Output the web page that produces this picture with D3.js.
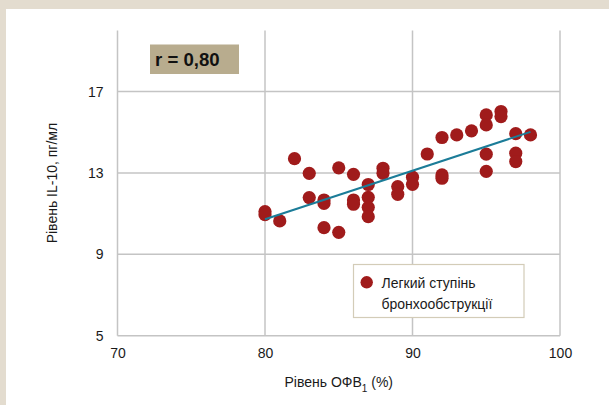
<!DOCTYPE html>
<html><head><meta charset="utf-8">
<script src="https://cdn.jsdelivr.net/npm/d3@7"></script>
<style>
html,body{margin:0;padding:0;background:#fff;}
svg{display:block;font-family:"Liberation Sans",Arial,sans-serif;}
</style></head>
<body>
<svg id="chart" width="609" height="405"></svg>
<script>
const fev1 = [80,80,81,82,83,83,84,84,84,85,85,86,86,86,87,87,87,87,88,88,89,89,90,90,91,92,92,92,93,94,95,95,95,95,96,96,97,97,97,98];
const il10 = [11.1,10.95,10.64,13.7,12.98,11.79,11.67,11.5,10.31,13.25,10.08,12.93,11.67,11.46,12.43,11.8,11.31,10.85,13.23,12.98,12.33,11.95,12.79,12.44,13.93,14.74,12.9,12.74,14.87,15.07,15.85,15.36,13.92,13.08,16.02,15.77,14.93,13.97,13.56,14.87];
const trendX = [80, 98];
const trendY = [10.72, 15.02];
const xTicks = [70,80,90,100];
const yTicks = [5,9,13,17];
const legendLines = ["Легкий ступінь","бронхообструкції"];
const rLabel = "r = 0,80";

const svg = d3.select("#chart");
const W = 609, H = 405;
svg.append("rect").attr("width",W).attr("height",H).attr("fill","#e3dccf");
svg.append("rect").attr("x",6).attr("y",9).attr("width",W-6).attr("height",H-9).attr("fill","#fff");

const x = d3.scaleLinear().domain([70,100]).range([117.5,560]);
const y = d3.scaleLinear().domain([5,20]).range([335.7,30.5]);
const grid = "#c4c4c4";

// vertical gridlines
svg.append("g").selectAll("line").data(xTicks).join("line")
  .attr("x1",d=>x(d)).attr("x2",d=>x(d)).attr("y1",y(20)).attr("y2",y(5))
  .attr("stroke",grid).attr("stroke-width",1.5);
// horizontal gridlines
svg.append("g").selectAll("line").data(yTicks).join("line")
  .attr("x1",x(70)).attr("x2",x(100)).attr("y1",d=>y(d)).attr("y2",d=>y(d))
  .attr("stroke",grid).attr("stroke-width",1.5);

// axes labels via d3 axes
const xAxis = svg.append("g").attr("transform",`translate(0,${y(5)})`)
  .call(d3.axisBottom(x).tickValues(xTicks).tickSize(0).tickPadding(12));
xAxis.select(".domain").remove();
xAxis.selectAll("text").attr("font-size",14).attr("fill","#1a1a1a").attr("font-family","Liberation Sans, Arial, sans-serif");

const yAxis = svg.append("g").attr("transform",`translate(${x(70)},0)`)
  .call(d3.axisLeft(y).tickValues(yTicks).tickSize(0).tickPadding(14));
yAxis.select(".domain").remove();
yAxis.selectAll("text").attr("font-size",14).attr("fill","#1a1a1a").attr("font-family","Liberation Sans, Arial, sans-serif");

// points
svg.append("g").selectAll("circle").data(fev1.map((v,i)=>[v,il10[i]])).join("circle")
  .attr("cx",d=>x(d[0])).attr("cy",d=>y(d[1])).attr("r",6.6).attr("fill","#a01b1b");

// trend line
svg.append("line")
  .attr("x1",x(trendX[0])).attr("y1",y(trendY[0]))
  .attr("x2",x(trendX[1])).attr("y2",y(trendY[1]))
  .attr("stroke","#1b7c98").attr("stroke-width",2);

// r label box
svg.append("rect").attr("x",150).attr("y",44.5).attr("width",89).attr("height",29.5).attr("fill","#b8ac8e");
svg.append("text").attr("x",155).attr("y",66).attr("font-size",18.6).attr("font-weight","bold").attr("fill","#111").text(rLabel);

// legend
svg.append("rect").attr("x",353.5).attr("y",264.5).attr("width",170.5).attr("height",53)
  .attr("fill","#fff").attr("stroke","#d3ccb8").attr("stroke-width",1.2);
svg.append("circle").attr("cx",366.7).attr("cy",282.3).attr("r",6.2).attr("fill","#a01b1b");
svg.append("text").attr("x",381.5).attr("y",288).attr("font-size",14).attr("fill","#1a1a1a").text(legendLines[0]);
svg.append("text").attr("x",381.5).attr("y",309).attr("font-size",14).attr("fill","#1a1a1a").text(legendLines[1]);

// axis titles
const xt = svg.append("text").attr("x",(x(70)+x(100))/2).attr("y",387).attr("text-anchor","middle")
  .attr("font-size",14).attr("fill","#1a1a1a");
xt.append("tspan").text("Рівень ОФВ");
xt.append("tspan").attr("font-size",10).attr("dy",5).text("1");
xt.append("tspan").attr("dy",-5).text(" (%)");

svg.append("text").attr("transform",`translate(57,${(y(5)+y(20))/2}) rotate(-90)`).attr("text-anchor","middle")
  .attr("font-size",14).attr("fill","#1a1a1a").text("Рівень IL-10, пг/мл");
</script>
</body></html>
